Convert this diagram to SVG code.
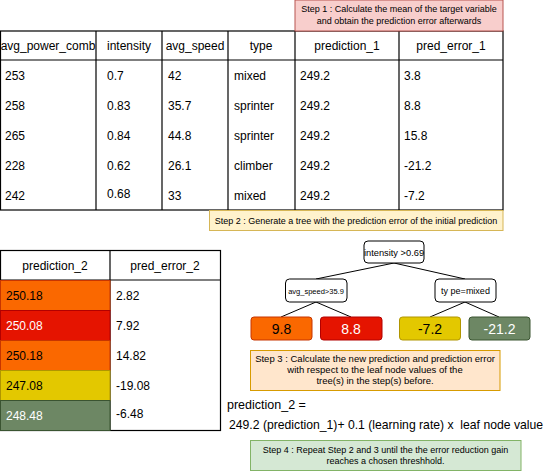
<svg xmlns="http://www.w3.org/2000/svg" width="551" height="471" viewBox="0 0 551 471">
<style>
text{font-family:"Liberation Sans",Arial,sans-serif;fill:#000}
.t{font-size:12px}
.c{text-anchor:middle}
.s{font-size:9px}
.ln{stroke:#000;stroke-width:1.2;fill:none}
.e{stroke:#000;stroke-width:1;fill:none}
.w{fill:#fff}
</style>
<rect width="551" height="471" fill="#fff"/>
<g id="table1">
<rect x="0.5" y="31" width="502.5" height="179" class="ln"/>
<line x1="0.5" y1="60" x2="503" y2="60" class="ln"/>
<line x1="96" y1="31" x2="96" y2="210" class="ln"/>
<line x1="162" y1="31" x2="162" y2="210" class="ln"/>
<line x1="228" y1="31" x2="228" y2="210" class="ln"/>
<line x1="295" y1="31" x2="295" y2="210" class="ln"/>
<line x1="399" y1="31" x2="399" y2="210" class="ln"/>
<g class="t">
<text x="48" y="50" class="c">avg_power_comb</text>
<text x="129" y="50" class="c">intensity</text>
<text x="195" y="50" class="c">avg_speed</text>
<text x="261" y="50" class="c">type</text>
<text x="347" y="50" class="c">prediction_1</text>
<text x="451" y="50" class="c">pred_error_1</text>
<text x="5" y="80">253</text><text x="107" y="80">0.7</text><text x="168" y="80">42</text><text x="234" y="80">mixed</text><text x="300" y="80">249.2</text><text x="404" y="80">3.8</text>
<text x="5" y="110">258</text><text x="107" y="110">0.83</text><text x="168" y="110">35.7</text><text x="234" y="110">sprinter</text><text x="300" y="110">249.2</text><text x="404" y="110">8.8</text>
<text x="5" y="140">265</text><text x="107" y="140">0.84</text><text x="168" y="140">44.8</text><text x="234" y="140">sprinter</text><text x="300" y="140">249.2</text><text x="404" y="140">15.8</text>
<text x="5" y="170">228</text><text x="107" y="170">0.62</text><text x="168" y="170">26.1</text><text x="234" y="170">climber</text><text x="300" y="170">249.2</text><text x="404" y="170">-21.2</text>
<text x="5" y="200">242</text><text x="107" y="198">0.68</text><text x="168" y="200">33</text><text x="234" y="200">mixed</text><text x="300" y="200">249.2</text><text x="404" y="200">-7.2</text>
</g>
</g>
<g id="step1">
<rect x="295" y="0" width="208" height="31" fill="#f8cecc" stroke="#b85450"/>
<text x="399" y="12" class="s c">Step 1 : Calculate the mean of the target variable</text>
<text x="399" y="24" class="s c">and obtain the prediction error afterwards</text>
</g>
<g id="step2">
<rect x="209.5" y="210.5" width="293.5" height="20" fill="#fff2cc" stroke="#d6b656"/>
<text x="356" y="223.5" class="s c">Step 2 : Generate a tree with the prediction error of the initial prediction</text>
</g>
<g id="table2">
<rect x="0.5" y="250.5" width="220" height="180" class="ln"/>
<line x1="0.5" y1="280" x2="220.5" y2="280" class="ln"/>
<line x1="110" y1="250.5" x2="110" y2="430.5" class="ln"/>
<rect x="0.5" y="280.5" width="109.5" height="30" fill="#fa6800" stroke="#c73500"/>
<rect x="0.5" y="310.5" width="109.5" height="30" fill="#e51400" stroke="#b20000"/>
<rect x="0.5" y="340.5" width="109.5" height="30" fill="#fa6800" stroke="#c73500"/>
<rect x="0.5" y="370.5" width="109.5" height="30" fill="#e3c800" stroke="#b09500"/>
<rect x="0.5" y="400.5" width="109.5" height="30" fill="#6d8764" stroke="#3a5431"/>
<g class="t">
<text x="55" y="270" class="c">prediction_2</text>
<text x="165" y="270" class="c">pred_error_2</text>
<text x="6" y="300">250.18</text><text x="116" y="300">2.82</text>
<text x="6" y="330" class="w">250.08</text><text x="116" y="330">7.92</text>
<text x="6" y="360">250.18</text><text x="116" y="360">14.82</text>
<text x="6" y="390">247.08</text><text x="116" y="390">-19.08</text>
<text x="6" y="420" class="w">248.48</text><text x="116" y="418">-6.48</text>
</g>
</g>
<g id="connectors">
<line x1="394" y1="263" x2="316" y2="279" class="e"/>
<line x1="394" y1="263" x2="465" y2="279" class="e"/>
<line x1="316" y1="302" x2="281" y2="317" class="e"/>
<line x1="316" y1="302" x2="351" y2="317" class="e"/>
<line x1="465" y1="302" x2="430" y2="317" class="e"/>
<line x1="465" y1="302" x2="499" y2="317" class="e"/>
</g>
<g id="root">
<rect x="364" y="241" width="60" height="22" rx="4" fill="#fff" stroke="#000"/>
<text x="394" y="255.5" class="c" style="font-size:9.3px">intensity &gt;0.69</text>
</g>
<g id="node-speed">
<rect x="285.5" y="279" width="61.5" height="23" rx="4" fill="#fff" stroke="#000"/>
<text x="316" y="293.5" class="c" style="font-size:7.5px">avg_speed&gt;35.9</text>
</g>
<g id="node-type">
<rect x="435" y="279" width="61" height="23" rx="4" fill="#fff" stroke="#000"/>
<text x="465.5" y="294" class="c" style="font-size:9px">ty pe=mixed</text>
</g>
<g id="leaf1">
<rect x="251" y="317" width="61" height="23" rx="3" fill="#fa6800" stroke="#c73500"/>
<text x="281.5" y="334" class="c" style="font-size:14px">9.8</text>
</g>
<g id="leaf2">
<rect x="320.5" y="317" width="61.5" height="23" rx="3" fill="#e51400" stroke="#b20000"/>
<text x="351" y="334" class="c w" style="font-size:14px">8.8</text>
</g>
<g id="leaf3">
<rect x="399.5" y="317" width="61" height="23" rx="3" fill="#e3c800" stroke="#b09500"/>
<text x="430" y="334" class="c" style="font-size:14px">-7.2</text>
</g>
<g id="leaf4">
<rect x="469" y="317" width="61" height="23" rx="3" fill="#6d8764" stroke="#3a5431"/>
<text x="499.5" y="334" class="c w" style="font-size:14px">-21.2</text>
</g>
<g id="step3">
<rect x="250.5" y="350.5" width="249.5" height="40" fill="#ffe6cc" stroke="#d79b00"/>
<text x="375" y="362" class="c" style="font-size:9.5px">Step 3 : Calculate the new prediction and prediction error</text>
<text x="375" y="373" class="c" style="font-size:9.5px">with respect to the leaf node values of the</text>
<text x="375" y="384" class="c" style="font-size:9.5px">tree(s) in the step(s) before.</text>
</g>
<g id="formula">
<text x="227" y="409" style="font-size:12.5px">prediction_2 =</text>
<text x="229" y="429" style="font-size:12.2px" xml:space="preserve">249.2 (prediction_1)+ 0.1 (learning rate) x  leaf node value</text>
</g>
<g id="step4">
<rect x="250.5" y="440.5" width="270.5" height="30" fill="#d5e8d4" stroke="#82b366"/>
<text x="385.5" y="453" class="s c">Step 4 : Repeat Step 2 and 3 until the the error reduction gain</text>
<text x="385.5" y="464" class="s c">reaches a chosen threshhold.</text>
</g>
</svg>
